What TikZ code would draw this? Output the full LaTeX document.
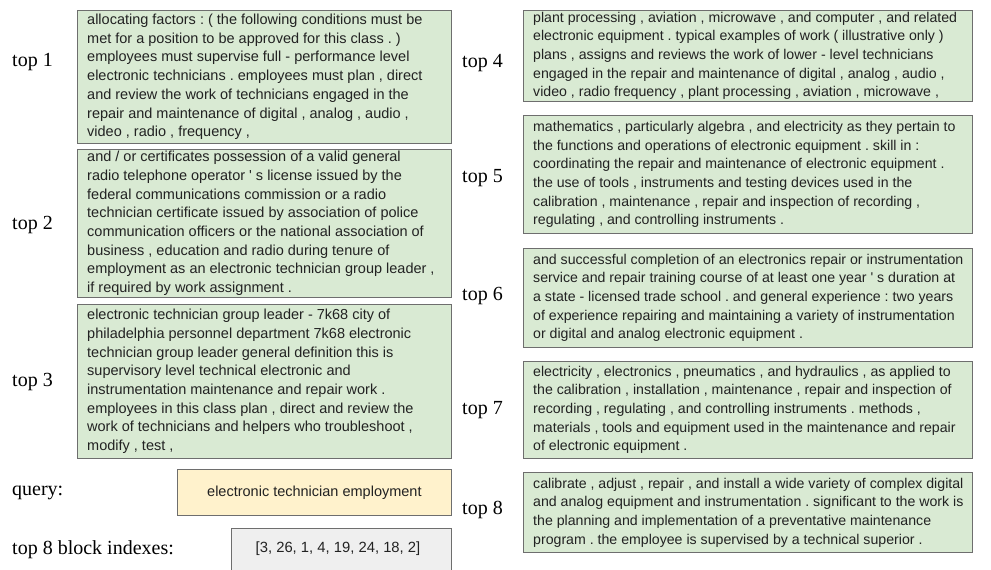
\documentclass[tikz,border=0pt]{standalone}
\usepackage{fontspec}
\setmainfont{Liberation Sans}
\newfontfamily\labelfont{Liberation Serif}
\definecolor{passagegreen}{HTML}{D9EAD3}
\definecolor{querycream}{HTML}{FFF2CC}
\definecolor{indexgray}{HTML}{EFEFEF}
\definecolor{boxline}{HTML}{6E6E6E}
\definecolor{textgray}{HTML}{222222}
% straight apostrophe, bypassing the TeX quote mapping
\newcommand{\apos}{\XeTeXglyph\XeTeXcharglyph"27\relax}
\begin{document}
\frenchspacing
\begin{tikzpicture}[x=1pt,y=-1pt,
  basebox/.style={draw=boxline, line width=0.8pt, inner sep=0pt},
  passage/.style={basebox, fill=passagegreen, anchor=north west},
  leftpassage/.style={passage, minimum width=374pt},
  rightpassage/.style={passage, minimum width=449pt},
  lefttext/.style={anchor=west, inner sep=0pt, align=left, text=textgray,
    font=\fontsize{14.5}{18.7}\selectfont},
  righttext/.style={lefttext, font=\fontsize{14.15}{18.7}\selectfont},
  rank/.style={anchor=west, inner sep=0pt, text=black,
    font=\labelfont\fontsize{20}{24}\selectfont}
]
\useasboundingbox (0,0) rectangle (991,570);
\fill[white] (0,0) rectangle (991,570);
\clip (0,0) rectangle (991,570);

% retrieved passages, left column
\node[leftpassage, minimum height=133pt] (p1) at (77,10) {};
\node[lefttext] (t1) at ([xshift=10pt]p1.west) {%
allocating factors : ( the following conditions must be\\
met for a position to be approved for this class . )\\
employees must supervise full - performance level\\
electronic technicians . employees must plan , direct\\
and review the work of technicians engaged in the\\
repair and maintenance of digital , analog , audio ,\\
video , radio , frequency ,};
\node[leftpassage, minimum height=148pt] (p2) at (77,149) {};
\node[lefttext] (t2) at ([xshift=10pt]p2.west) {%
and / or certificates possession of a valid general\\
radio telephone operator \apos{} s license issued by the\\
federal communications commission or a radio\\
technician certificate issued by association of police\\
communication officers or the national association of\\
business , education and radio during tenure of\\
employment as an electronic technician group leader ,\\
if required by work assignment .};
\node[leftpassage, minimum height=154pt] (p3) at (77,304) {};
\node[lefttext] (t3) at ([xshift=10pt]p3.west) {%
electronic technician group leader - 7k68 city of\\
philadelphia personnel department 7k68 electronic\\
technician group leader general definition this is\\
supervisory level technical electronic and\\
instrumentation maintenance and repair work .\\
employees in this class plan , direct and review the\\
work of technicians and helpers who troubleshoot ,\\
modify , test ,};

% retrieved passages, right column
\node[rightpassage, minimum height=91pt] (p4) at (523,10) {};
\node[righttext] (t4) at ([xshift=10pt]p4.west) {%
plant processing , aviation , microwave , and computer , and related\\
electronic equipment . typical examples of work ( illustrative only )\\
plans , assigns and reviews the work of lower - level technicians\\
engaged in the repair and maintenance of digital , analog , audio ,\\
video , radio frequency , plant processing , aviation , microwave ,};
\node[rightpassage, minimum height=118pt] (p5) at (523,115) {};
\node[righttext] (t5) at ([xshift=10pt]p5.west) {%
mathematics , particularly algebra , and electricity as they pertain to\\
the functions and operations of electronic equipment . skill in :\\
coordinating the repair and maintenance of electronic equipment .\\
the use of tools , instruments and testing devices used in the\\
calibration , maintenance , repair and inspection of recording ,\\
regulating , and controlling instruments .};
\node[rightpassage, minimum height=99pt] (p6) at (523,248) {};
\node[righttext] (t6) at ([xshift=10pt]p6.west) {%
and successful completion of an electronics repair or instrumentation\\
service and repair training course of at least one year \apos{} s duration at\\
a state - licensed trade school . and general experience : two years\\
of experience repairing and maintaining a variety of instrumentation\\
or digital and analog electronic equipment .};
\node[rightpassage, minimum height=97pt] (p7) at (523,361) {};
\node[righttext] (t7) at ([xshift=10pt]p7.west) {%
electricity , electronics , pneumatics , and hydraulics , as applied to\\
the calibration , installation , maintenance , repair and inspection of\\
recording , regulating , and controlling instruments . methods ,\\
materials , tools and equipment used in the maintenance and repair\\
of electronic equipment .};
\node[rightpassage, minimum height=80pt] (p8) at (523,472) {};
\node[righttext] (t8) at ([xshift=10pt]p8.west) {%
calibrate , adjust , repair , and install a wide variety of complex digital\\
and analog equipment and instrumentation . significant to the work is\\
the planning and implementation of a preventative maintenance\\
program . the employee is supervised by a technical superior .};

% query and resulting block indexes
\node[basebox, fill=querycream, anchor=north west, minimum width=274pt,
  minimum height=46pt, text=textgray, font=\fontsize{14.5}{18}\selectfont]
  (query) at (177,469) {electronic technician employment};
\node[basebox, fill=indexgray, anchor=north west, minimum width=220pt,
  minimum height=50pt] (idx) at (231,528) {};
\node[anchor=center, text=textgray, inner sep=0pt,
  font=\fontsize{14.8}{18}\selectfont] (idxtext) at (338,549)
  {[3, 26, 1, 4, 19, 24, 18, 2]};

% rank labels
\node[rank] (r1) at (12,62) {top 1};
\node[rank] (r2) at (12,225) {top 2};
\node[rank] (r3) at (12,382) {top 3};
\node[rank] (r4) at (462,63) {top 4};
\node[rank] (r5) at (462,178) {top 5};
\node[rank] (r6) at (462,296) {top 6};
\node[rank] (r7) at (462,410) {top 7};
\node[rank] (r8) at (462,510) {top 8};
\node[rank] (lq) at (12,493) {query:};
\node[rank] (li) at (12,550) {top 8 block indexes:};
\end{tikzpicture}
\end{document}
